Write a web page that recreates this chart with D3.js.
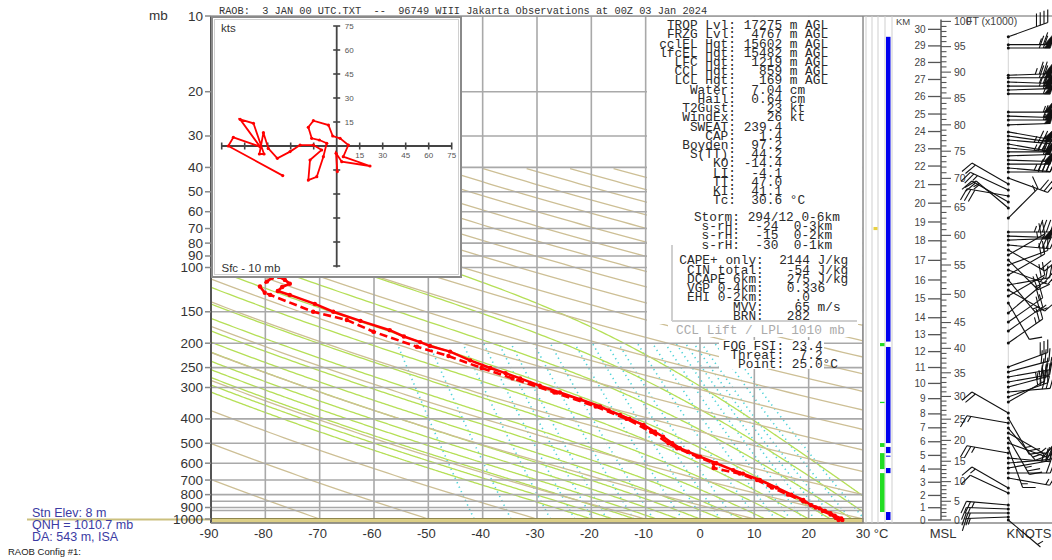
<!DOCTYPE html>
<html><head><meta charset="utf-8">
<script src="https://cdn.jsdelivr.net/npm/d3@7"></script>
<style>
body{margin:0;background:#fff;}
svg{display:block;}
.mono{font-family:"Liberation Mono","DejaVu Sans Mono",monospace;}
.sans{font-family:"Liberation Sans",Arial,sans-serif;}
</style></head><body>
<svg id="c" width="1052" height="560"></svg>
<script>
// ---------------- DATA ----------------
const titleText = "RAOB:  3 JAN 00 UTC.TXT  --  96749 WIII Jakarta Observations at 00Z 03 Jan 2024";
const isobarsMajor = [10,20,30,40,50,60,70,80,90,100,150,200,250,300,400,500,600,700,800,900,1000];
const isobarsMinor = [850,925];
const tempTicks = [-90,-80,-70,-60,-50,-40,-30,-20,-10,0,10,20,30];

// solid temperature trace (mb, °C)
const solidP = [1009,995,970,949,930,907,880,840,800,750,700,660,639,600,565,540,523,500,471,450,423,400,386,370,357,335,314,295,276,263,251,234,216,205,198,188,177.5,163,150,139.5,128.5,124,119.5,116,112,109];
const solidT = [26.2,26.0,24.8,24.0,23.0,22.0,20.4,19.0,16.8,14.1,11.0,7.9,6.1,3.0,0.0,-2.2,-3.7,-5.1,-6.8,-8.3,-10.4,-13.0,-14.7,-16.8,-18.4,-22.0,-25.8,-29.5,-33.1,-35.8,-38.6,-42.3,-46.0,-49.7,-51.5,-54.5,-57.1,-62.5,-67.5,-70.9,-75.5,-77.7,-76.9,-75.5,-76.4,-77.5];
// dashed trace (mb, °C)
const dashP = [1009,990,960,930,900,850,800,750,700,660,627,600,565,523,500,450,400,357,314,276,251,225,206.5,180,161.7,150,128.5,126,119,113.8,110];
const dashT = [25.5,25.0,24.0,22.6,21.3,19.0,16.2,13.2,10.5,7.3,2.5,2.5,-0.5,-4.2,-5.8,-9.0,-13.5,-19.2,-26.8,-34.5,-40.2,-46.3,-52.1,-60.1,-65.0,-71.2,-79.1,-80.1,-81.0,-79.7,-78.8];

// background families
const dryThetaK = [203.15,223.15,243.15,263.15,283.15,303.15,323.15,343.15,363.15,383.15,403.15,423.15,443.15,463.15,483.15,503.15,523.15,543.15,563.15,583.15,603.15,623.15,643.15];
const moistThetaW = [-20,-16,-12,-8,-4,0,4,8,12,16,20,24,28,32,36];
const mixRatios = [0.1,0.2,0.4,0.6,0.8,1,1.5,2,3,4,5,6,8,10,12,14,16,18,20,24,28];

// hodograph (kts)
const hodoU = [0.4,-0.4,3.3,21.7,4.3,7.6,2.2,-2.6,-5.4,-15.2,-18.5,-16.3,-11.3,-6.5,-8.7,-13,-18.5,-17.4,-9.8,-15.2,-23.9,-30.4,-38.7,-44.6,-47.8,-50.4,-47.4,-54.3,-63,-50,-67.4,-70.7,-35.2];
const hodoV = [-16,-4.6,-9.8,-12.5,-6.7,0.6,4.8,6.25,13.1,15.8,11.7,4.8,3.75,1.7,-6.7,-19.2,-21.3,-8.75,-2.5,0.6,0.6,-3.5,-7.7,-1.5,8.3,-5,-5,14.2,16.7,-0.4,5.4,0,-18.5];
const hodoTicks = [-75,-60,-45,-30,-15,15,30,45,60,75];
const hodoLabels = [15,30,45,60,75];

// wind barbs (mb, deg, kts)
const windP = [12.1,13.0,13.4,17.2,17.6,18.3,19.0,19.7,20.4,24.1,25.0,25.9,27.1,28.9,30.0,31.1,32.3,33.5,34.7,36.0,37.4,38.8,40.2,41.7,44.1,46.6,49.2,52.0,54.9,58.0,63.6,72.3,75.0,77.8,81.4,85.2,89.2,93.4,97.7,102.3,107.1,112.1,117.4,122.9,129.8,138.4,151.7,164.7,178.8,199.7,248.6,260.3,272.5,285.3,298.7,312.6,327.3,342.6,378.9,396.7,415.3,434.8,455.2,476.4,498.8,522.1,546.7,572.3,599.1,627.1,656.6,687.1,752.9,788.1,879.7,912.5,946.5,981.7,1009];
const windDir = [70,90,90,88,90,92,90,88,90,90,92,90,88,100,98,95,100,95,90,88,92,90,95,90,110,300,295,280,300,310,45,90,92,88,95,120,60,135,70,110,60,140,80,120,60,150,50,55,55,55,70,75,80,80,75,85,70,60,300,150,280,140,120,150,110,160,280,95,85,80,90,100,300,295,275,272,270,268,130];
const windSpd = [40,65,70,75,70,65,70,60,55,55,60,55,50,50,55,45,40,45,55,60,55,50,45,40,30,20,25,30,25,15,15,45,50,55,40,20,25,20,15,25,20,15,20,15,20,10,20,20,20,25,30,30,30,25,35,30,25,30,20,25,15,20,15,25,20,15,25,20,25,25,20,15,15,10,25,20,20,15,5];

// height scale anchors (km -> mb)
const kmAnchorKm = [0,2,4,6,8,10,12,14,16,18,20,22,24,26,28,30];
const kmAnchorP = [1009,806,633,493,382,289,216,158.4,112.1,78.3,55.5,39.5,28.8,20.9,15.3,11.3];
const kmTicks = [0,1,2,3,4,5,6,7,8,9,10,11,12,13,14,15,16,17,18,19,20,21,22,23,24,25,26,27,28,29,30];
const ftMajor = [0,5,10,15,20,25,30,35,40,45,50,55,60,65,70,75,80,85,90,95,100];

// layer columns (mb ranges)
const blueLayers = [[12.1,197],[207,499],[517,547],[560,565],[627,657],[938,1009]];
const greenLayers = [[199.7,205.5],[342,346],[499,517],[547,633],[657,938]];
const yellowLayers = [[69,71]];

// text panel
const blockA = ["TROP Lvl: 17275 m AGL","FRZG Lvl:  4767 m AGL","cclEL Hgt: 15602 m AGL","lfcEL Hgt: 15482 m AGL","LFC Hgt:  1219 m AGL","CCL Hgt:   859 m AGL","LCL Hgt:   169 m AGL","Water:  7.04 cm","Hail:  0.64 cm","T2Gust:    23 kt","WindEx:    26 kt","SWEAT: 239.4","CAP:   1.4","Boyden:  97.2","S(TT):  44.2","KO: -14.4","LI:  -4.1","TT:  47.0","KI:  41.1","Tc:  30.6 °C"];
const blockB = ["Storm: 294/12 0-6km","s-rH:  -24  0-3km","s-rH:  -15  0-2km","s-rH:  -30  0-1km"];
const blockC = ["CAPE+ only:  2144 J/kg","CIN total:   -54 J/kg","DCAPE 6km:   275 J/kg","VGP 0-4km:   0.336","EHI 0-2km:    .0","MVV:    65 m/s","BRN:   282"];
const liftText = "CCL Lift / LPL 1010 mb";
const blockE = ["FOG FSI: 23.4","Threat:  7.2","Point: 25.0°C"];
const stationLines = ["Stn Elev: 8 m","QNH = 1010.7 mb","DA: 543 m, ISA"];
const configText = "RAOB Config #1:";

// ---------------- DRAW ----------------
const svg = d3.select("#c");
const PL=211, PR=863, PT=16, PB=523;
const xT = d3.scaleLinear().domain([-90,30]).range([PL,PR]);
const yP = d3.scaleLog().domain([10,1000]).range([16,519]);
const K0 = 273.15;

svg.append("rect").attr("width",1052).attr("height",560).attr("fill","#fff");
svg.append("clipPath").attr("id","pc").append("rect").attr("x",PL).attr("y",PT).attr("width",PR-PL).attr("height",PB-PT);
const gBg = svg.append("g").attr("clip-path","url(#pc)");
const lineTK = d3.line().x(d=>xT(d[1]-K0)).y(d=>yP(d[0]));

// mixing ratio lines
mixRatios.forEach(w=>{
  const pts=[];
  for(let p=1040;p>=200;p-=10){
    const es=w*p/(622+w); const l=Math.log(es/6.112);
    const tc=243.5*l/(17.67-l); pts.push([p,tc+K0]);
  }
  gBg.append("path").attr("d",lineTK(pts)).attr("fill","none").attr("stroke","#4fd3d8").attr("stroke-width",1.6).attr("stroke-dasharray","1.3,3.6");
});
// moist adiabats
function satMix(p,T){const es=6.112*Math.exp(17.67*(T-K0)/(T-29.65));return 0.622*es/(p-es);}
function dTdp(p,T){const Rd=287.04,cp=1005.7,L=2.501e6,eps=0.622;const r=satMix(p,T);return (Rd*T+L*r)/(p*(cp+L*L*r*eps/(Rd*T*T)));}
moistThetaW.forEach(tw=>{
  const down=[]; let T=tw+K0, p=1000;
  while(p<1040){const k=dTdp(p,T);T+=k*4;p+=4;down.push([p,T]);}
  const up=[]; T=tw+K0; p=1000; const dp=-2;
  while(p>60){const k1=dTdp(p,T);const k2=dTdp(p+dp/2,T+k1*dp/2);T+=k2*dp;p+=dp;up.push([p,T]); if(T<150) break;}
  const pts=down.reverse().concat([[1000,tw+K0]],up);
  gBg.append("path").attr("d",lineTK(pts)).attr("fill","none").attr("stroke","#b5df56").attr("stroke-width",1.3);
});
// dry adiabats (drawn up to 40 mb)
dryThetaK.forEach(th=>{
  const pts=[];
  for(let lp=Math.log10(1040);lp>=Math.log10(40);lp-=0.01){const p=Math.pow(10,lp);pts.push([p,th*Math.pow(p/1000,0.2857)]);}
  gBg.append("path").attr("d",lineTK(pts)).attr("fill","none").attr("stroke","#cdbf95").attr("stroke-width",1.3);
});
// grid
gBg.selectAll(".iso").data(tempTicks).join("line").attr("x1",d=>xT(d)).attr("x2",d=>xT(d)).attr("y1",PT).attr("y2",PB).attr("stroke","#a9a9a9").attr("stroke-width",1.6);
gBg.selectAll(".isb").data(isobarsMajor.concat(isobarsMinor)).join("line").attr("x1",PL).attr("x2",PR).attr("y1",d=>yP(d)).attr("y2",d=>yP(d)).attr("stroke","#a9a9a9").attr("stroke-width",1.6);
// surface band
svg.append("rect").attr("x",PL).attr("y",yP(1000)-0.5).attr("width",PR-PL).attr("height",PB-yP(1000)+0.5).attr("fill","#dccf86").attr("stroke","#8f874f").attr("stroke-width",1);
svg.append("line").attr("x1",27).attr("x2",PL).attr("y1",yP(1000)+0.5).attr("y2",yP(1000)+0.5).attr("stroke","#cbc07e").attr("stroke-width",2);

// sounding
const gS = svg.append("g").attr("clip-path","url(#pc)");
const solid = solidP.map((p,i)=>[p,solidT[i]+K0]);
const dashed = dashP.map((p,i)=>[p,dashT[i]+K0]);
gS.append("path").attr("d",lineTK(dashed)).attr("fill","none").attr("stroke","#ff0000").attr("stroke-width",2.6).attr("stroke-dasharray","8,4");
gS.append("path").attr("d",lineTK(solid)).attr("fill","none").attr("stroke","#ff0000").attr("stroke-width",2.6);
gS.selectAll(".sm").data(solid.concat(dashed)).join("circle").attr("cx",d=>xT(d[1]-K0)).attr("cy",d=>yP(d[0])).attr("r",2.2).attr("fill","#ff0000");

// axes frame
svg.append("line").attr("x1",PL).attr("x2",PL).attr("y1",PT).attr("y2",PB).attr("stroke","#555").attr("stroke-width",2);
svg.append("line").attr("x1",PL).attr("x2",1052).attr("y1",PT).attr("y2",PT).attr("stroke","#999").attr("stroke-width",1.5);
svg.append("line").attr("x1",PL).attr("x2",1052).attr("y1",PB).attr("y2",PB).attr("stroke","#888").attr("stroke-width",1.5);
svg.append("line").attr("x1",PR).attr("x2",PR).attr("y1",PT).attr("y2",PB).attr("stroke","#888").attr("stroke-width",1.5);
svg.selectAll(".pl").data(isobarsMajor).join("text").attr("class","sans").attr("x",203).attr("y",d=>yP(d)+4.5).attr("text-anchor","end").attr("font-size",13.5).attr("fill","#333").text(d=>d);
svg.selectAll(".pt").data(isobarsMajor).join("line").attr("x1",205).attr("x2",PL).attr("y1",d=>yP(d)).attr("y2",d=>yP(d)).attr("stroke","#888").attr("stroke-width",1.5);
svg.append("text").attr("class","sans").attr("x",149).attr("y",20).attr("font-size",13.5).attr("fill","#333").text("mb");
svg.selectAll(".tl").data(tempTicks).join("text").attr("class","sans").attr("x",d=>xT(d)-(d<0?2:0)).attr("y",538).attr("text-anchor","middle").attr("font-size",13).attr("fill","#333").text(d=>d);
svg.append("text").attr("class","sans").attr("x",881).attr("y",538).attr("text-anchor","middle").attr("font-size",13).attr("fill","#333").text("°C");
svg.append("text").attr("class","sans").attr("x",943).attr("y",538).attr("text-anchor","middle").attr("font-size",13).attr("fill","#333").text("MSL");
svg.append("text").attr("class","sans").attr("x",1029).attr("y",538).attr("text-anchor","middle").attr("font-size",13).attr("fill","#333").text("KNOTS");

// title
svg.append("text").attr("class","mono").attr("x",219).attr("y",13.5).attr("font-size",10.3).attr("fill","#333").style("white-space","pre").text(titleText);

// station info
stationLines.forEach((s,i)=>svg.append("text").attr("class","sans").attr("x",32).attr("y",516.5+i*12).attr("font-size",12.5).attr("fill","#3b3ba3").text(s));
svg.append("text").attr("class","sans").attr("x",8).attr("y",555).attr("font-size",9.5).attr("fill","#222").text(configText);

// hodograph
const hg = svg.append("g");
hg.append("rect").attr("x",212).attr("y",17).attr("width",249).attr("height",260).attr("fill","#fff").attr("stroke","#8a8a8a").attr("stroke-width",2);
hg.append("rect").attr("x",214.5).attr("y",19.5).attr("width",244).attr("height",255).attr("fill","none").attr("stroke","#d0d0d0").attr("stroke-width",1);
const hx = d3.scaleLinear().domain([-75,75]).range([221.7,451.7]);
const hy = d3.scaleLinear().domain([-75,75]).range([266,26]);
hg.append("line").attr("x1",hx(-75)).attr("x2",hx(75)).attr("y1",hy(0)).attr("y2",hy(0)).attr("stroke","#444").attr("stroke-width",1.8);
hg.append("line").attr("x1",hx(0)).attr("x2",hx(0)).attr("y1",hy(75)).attr("y2",hy(-75)+1.5).attr("stroke","#444").attr("stroke-width",1.8);
hg.selectAll(".hxt").data(hodoTicks).join("line").attr("x1",d=>hx(d)).attr("x2",d=>hx(d)).attr("y1",hy(0)-3.5).attr("y2",hy(0)+3.5).attr("stroke","#444").attr("stroke-width",1.6);
hg.selectAll(".hyt").data(hodoTicks).join("line").attr("y1",d=>hy(d)).attr("y2",d=>hy(d)).attr("x1",hx(0)-3.5).attr("x2",hx(0)+3.5).attr("stroke","#444").attr("stroke-width",1.6);
hg.selectAll(".hxl").data(hodoLabels).join("text").attr("class","sans").attr("x",d=>hx(d)).attr("y",hy(0)+12).attr("text-anchor","middle").attr("font-size",8).attr("fill","#555").text(d=>d);
hg.selectAll(".hyl").data(hodoLabels).join("text").attr("class","sans").attr("x",hx(0)+8).attr("y",d=>hy(d)+3).attr("font-size",8).attr("fill","#555").text(d=>d);
hg.append("text").attr("class","sans").attr("x",221).attr("y",32).attr("font-size",11.5).attr("fill","#333").text("kts");
hg.append("text").attr("class","sans").attr("x",221.5).attr("y",272).attr("font-size",11.5).attr("fill","#333").text("Sfc - 10 mb");
const hodo = hodoU.map((u,i)=>[u,hodoV[i]]);
hg.append("path").attr("d",d3.line().x(d=>hx(d[0])).y(d=>hy(d[1]))(hodo)).attr("fill","none").attr("stroke","#ff0000").attr("stroke-width",1.8);
hg.selectAll(".hp").data(hodo).join("circle").attr("cx",d=>hx(d[0])).attr("cy",d=>hy(d[1])).attr("r",1.6).attr("fill","#ff0000");

// text panel
const tp = svg.append("g");
tp.append("rect").attr("x",647).attr("y",17).attr("width",PR-647-0.8).attr("height",307).attr("fill","#fff");
tp.append("rect").attr("x",668).attr("y",322).attr("width",190).attr("height",15).attr("fill","#fff");
tp.append("rect").attr("x",719).attr("y",340).attr("width",105).attr("height",29).attr("fill","#fff");
const CW = 7.68;
function block(lines, colonX, y0, dy, color){
  lines.forEach((s,i)=>{
    const k = s.indexOf(":")+1;
    tp.append("text").attr("class","mono").attr("x",colonX-k*CW).attr("y",y0+i*dy).attr("font-size",12.8).attr("fill",color||"#2a2a2a").style("white-space","pre").text(s);
  });
}
block(blockA, 736, 29.2, 9.21);
block(blockB, 740, 220.9, 9.2);
block(blockC, 763.8, 264.2, 9.3);
tp.append("text").attr("class","mono").attr("x",676).attr("y",334.3).attr("font-size",12.8).attr("fill","#ababab").style("white-space","pre").text(liftText);
block(blockE, 784.2, 350.2, 9.0);
tp.append("line").attr("x1",672).attr("x2",672).attr("y1",245).attr("y2",321).attr("stroke","#cfcfcf").attr("stroke-width",2);
tp.append("line").attr("x1",672).attr("x2",857).attr("y1",321).attr("y2",321).attr("stroke","#cfcfcf").attr("stroke-width",2);

// layer columns
const cg = svg.append("g");
[866,872,878,885,892].forEach(x=>cg.append("line").attr("x1",x).attr("x2",x).attr("y1",PT).attr("y2",PB).attr("stroke","#cfcfcf").attr("stroke-width",1));
cg.selectAll(".bl").data(blueLayers).join("rect").attr("x",886).attr("width",4.5).attr("y",d=>yP(d[0])).attr("height",d=>Math.max(1,yP(d[1])-yP(d[0]))).attr("fill","#0000ee");
cg.selectAll(".gl").data(greenLayers).join("rect").attr("x",880).attr("width",4.5).attr("y",d=>yP(d[0])).attr("height",d=>Math.max(1.2,yP(d[1])-yP(d[0]))).attr("fill","#22dd22");
cg.selectAll(".yl").data(yellowLayers).join("rect").attr("x",873.5).attr("width",4).attr("y",d=>yP(d[0])).attr("height",d=>Math.max(1.5,yP(d[1])-yP(d[0]))).attr("fill","#e8d040");

// height axis
const kmToLogP = d3.scaleLinear().domain(kmAnchorKm).range(kmAnchorP.map(Math.log10));
const yKm = km => yP(Math.pow(10,kmToLogP(km)));
const ag = svg.append("g");
ag.append("line").attr("x1",941).attr("x2",941).attr("y1",yKm(0)).attr("y2",yKm(30.6)).attr("stroke","#555").attr("stroke-width",1.5);
ag.selectAll(".kt").data(kmTicks).join("line").attr("x1",928).attr("x2",941).attr("y1",d=>yKm(d)).attr("y2",d=>yKm(d)).attr("stroke","#555").attr("stroke-width",1.3);
ag.selectAll(".kl").data(kmTicks).join("text").attr("class","sans").attr("x",925.5).attr("y",d=>yKm(d)+3.6).attr("text-anchor","end").attr("font-size",10).attr("fill","#444").text(d=>d);
const ftAll = d3.range(0,101);
ag.selectAll(".ft").data(ftAll).join("line").attr("x1",941).attr("x2",d=>d%5===0?951:946.5).attr("y1",d=>yKm(d*0.3048)).attr("y2",d=>yKm(d*0.3048)).attr("stroke","#555").attr("stroke-width",1.1);
ag.selectAll(".fl").data(ftMajor).join("text").attr("class","sans").attr("x",954).attr("y",d=>yKm(d*0.3048)+3.8).attr("font-size",10.5).attr("fill","#444").text(d=>d);
ag.append("text").attr("class","sans").attr("x",966).attr("y",yKm(100*0.3048)+3.8).attr("font-size",10.5).attr("fill","#444").text("FT (x1000)");
ag.append("text").attr("class","sans").attr("x",896).attr("y",25).attr("font-size",9.5).attr("fill","#444").text("KM");

// wind barbs
const wg = svg.append("g");
const BX = 1008.3;
wg.append("line").attr("x1",BX).attr("x2",BX).attr("y1",yP(windP[0])).attr("y2",yP(1009)).attr("stroke","#c8c8c8").attr("stroke-width",0.8);
function drawBarb(p,dir,spd){
  const y0=yP(p), L=42, a=dir*Math.PI/180;
  const sx=Math.sin(a), sy=-Math.cos(a);
  const lx=sy, ly=-sx;
  const bx=lx*0.94+sx*0.34, by=ly*0.94+sy*0.34;
  const P=t=>[BX+sx*t, y0+sy*t];
  wg.append("line").attr("x1",BX).attr("y1",y0).attr("x2",P(L)[0]).attr("y2",P(L)[1]).attr("stroke","#111").attr("stroke-width",1.1);
  let rem=Math.round(spd/5)*5, pos=L; const BL=13;
  while(rem>=50){const a0=P(pos), a1=P(pos-6);
    wg.append("path").attr("d",`M${a0[0]},${a0[1]}L${a0[0]+bx*BL},${a0[1]+by*BL}L${a1[0]},${a1[1]}Z`).attr("fill","#111").attr("stroke","#111").attr("stroke-width",0.6);
    rem-=50; pos-=7;}
  while(rem>=10){const a0=P(pos); wg.append("line").attr("x1",a0[0]).attr("y1",a0[1]).attr("x2",a0[0]+bx*BL).attr("y2",a0[1]+by*BL).attr("stroke","#111").attr("stroke-width",1.1); rem-=10; pos-=4;}
  if(rem>=5){ if(pos===L) pos-=4; const a0=P(pos); wg.append("line").attr("x1",a0[0]).attr("y1",a0[1]).attr("x2",a0[0]+bx*BL*0.5).attr("y2",a0[1]+by*BL*0.5).attr("stroke","#111").attr("stroke-width",1.1);}
  wg.append("circle").attr("cx",BX).attr("cy",y0).attr("r",1.5).attr("fill","#111");
}
windP.forEach((p,i)=>drawBarb(p,windDir[i],windSpd[i]));
</script>
</body></html>
